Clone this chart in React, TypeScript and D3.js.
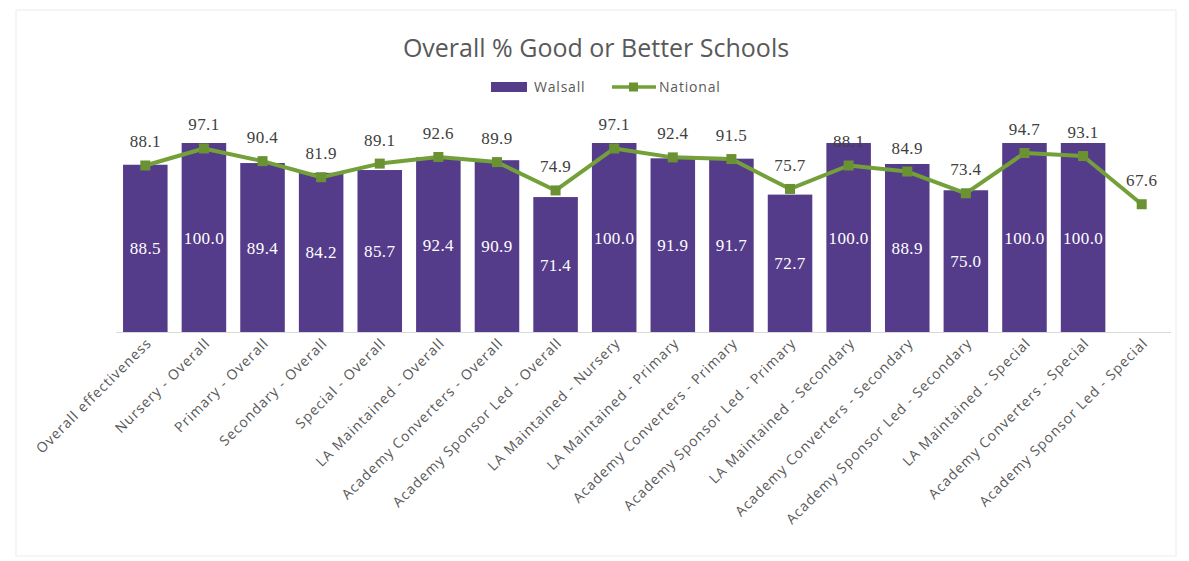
import React from "react";
import * as d3 from "d3";

const categories = [
  "Overall effectiveness",
  "Nursery - Overall",
  "Primary - Overall",
  "Secondary - Overall",
  "Special - Overall",
  "LA Maintained - Overall",
  "Academy Converters - Overall",
  "Academy Sponsor Led - Overall",
  "LA Maintained - Nursery",
  "LA Maintained - Primary",
  "Academy Converters - Primary",
  "Academy Sponsor Led - Primary",
  "LA Maintained - Secondary",
  "Academy Converters - Secondary",
  "Academy Sponsor Led - Secondary",
  "LA Maintained - Special",
  "Academy Converters - Special",
  "Academy Sponsor Led - Special",
];

const walsall: (number | null)[] = [
  88.5, 100.0, 89.4, 84.2, 85.7, 92.4, 90.9, 71.4, 100.0, 91.9, 91.7, 72.7, 100.0, 88.9, 75.0, 100.0, 100.0, null,
];

const national: number[] = [
  88.1, 97.1, 90.4, 81.9, 89.1, 92.6, 89.9, 74.9, 97.1, 92.4, 91.5, 75.7, 88.1, 84.9, 73.4, 94.7, 93.1, 67.6,
];

const W = 1189;
const H = 561;
const plotLeft = 116;
const plotRight = 1171;
const plotBottom = 332;
const plotTop100 = 143;

const BAR = "#553c8a";
const LINE = "#74a03a";
const MARK = "#6b9232";

export default function App() {
  const x = d3.scaleBand<string>().domain(categories).range([plotLeft, plotRight]).paddingInner(0.24).paddingOuter(0.12);
  const y = d3.scaleLinear().domain([0, 100]).range([plotBottom, plotTop100]);
  const cx = (c: string) => (x(c) as number) + x.bandwidth() / 2;

  const line = d3
    .line<number>()
    .x((_, i) => cx(categories[i]))
    .y((d) => y(d));

  return (
    <svg width={W} height={H} style={{ position: "absolute", left: 0, top: 0, background: "#fff" }}>
      <rect x={16} y={10} width={1160} height={546} fill="#fff" stroke="#ececec" />
      <text x={596} y={57} textAnchor="middle" fontFamily="'Open Sans', sans-serif" fontSize={25} fill="#595959">
        Overall % Good or Better Schools
      </text>
      {/* legend */}
      <g>
        <rect x={491} y={82} width={36} height={10} fill={BAR} />
        <text x={534} y={92} fontFamily="'Open Sans', sans-serif" fontSize={14} letterSpacing={0.8} fill="#595959">Walsall</text>
        <line x1={612} x2={656} y1={87} y2={87} stroke={LINE} strokeWidth={3.5} />
        <rect x={629} y={82.5} width={9} height={9} fill={MARK} />
        <text x={659} y={92} fontFamily="'Open Sans', sans-serif" fontSize={14} letterSpacing={0.8} fill="#595959">National</text>
      </g>
      {/* bars */}
      {categories.map((c, i) =>
        walsall[i] == null ? null : (
          <rect key={c} x={x(c)} y={y(walsall[i] as number)} width={x.bandwidth()} height={plotBottom - y(walsall[i] as number)} fill={BAR} />
        )
      )}
      {/* axis line */}
      <line x1={plotLeft} x2={plotRight} y1={plotBottom + 0.5} y2={plotBottom + 0.5} stroke="#d9d9d9" />
      {/* inside labels */}
      {categories.map((c, i) =>
        walsall[i] == null ? null : (
          <text key={c} x={cx(c)} y={(y(walsall[i] as number) + plotBottom) / 2 + 6} textAnchor="middle" fontFamily="'Liberation Serif', serif" fontSize={17} letterSpacing={0.4} fill="#fff">
            {(walsall[i] as number).toFixed(1)}
          </text>
        )
      )}
      {/* national line */}
      <path d={line(national) || ""} fill="none" stroke={LINE} strokeWidth={4} strokeLinejoin="round" />
      {national.map((v, i) => (
        <rect key={i} x={cx(categories[i]) - 5} y={y(v) - 5} width={10} height={10} fill={MARK} />
      ))}
      {national.map((v, i) => (
        <text key={i} x={cx(categories[i])} y={y(v) - 18} textAnchor="middle" fontFamily="'Liberation Serif', serif" fontSize={17} letterSpacing={0.4} fill="#404040">
          {v.toFixed(1)}
        </text>
      ))}
      {/* x labels */}
      {categories.map((c) => (
        <text
          key={c}
          transform={`translate(${cx(c) + 7},${plotBottom + 12}) rotate(-45)`}
          textAnchor="end"
          fontFamily="'Open Sans', sans-serif"
          fontSize={14}
          letterSpacing={1}
          fill="#595959"
        >
          {c}
        </text>
      ))}
    </svg>
  );
}
